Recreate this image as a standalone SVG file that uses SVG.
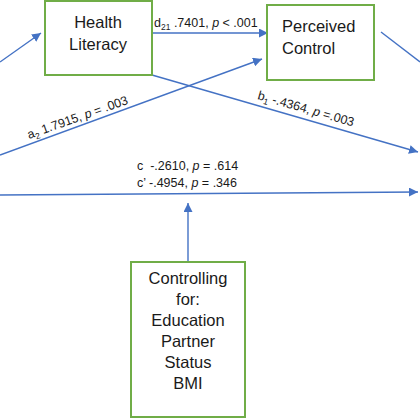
<svg xmlns="http://www.w3.org/2000/svg" width="420" height="420" viewBox="0 0 420 420">
<defs>
<marker id="ah" viewBox="0 0 10 10" refX="10" refY="5" markerWidth="9" markerHeight="9" markerUnits="userSpaceOnUse" orient="auto">
<path d="M0,0 L10,5 L0,10 z" fill="#4472C4"/>
</marker>
<style>
.box{fill:#fff;stroke:#70AD47;stroke-width:2}
.lbl{font-family:"Liberation Sans",Arial,sans-serif;font-size:16.5px;fill:#1a1a1a}
.sm{font-family:"Liberation Sans",Arial,sans-serif;font-size:12.5px;fill:#1a1a1a}
.ln{stroke:#4472C4;stroke-width:1.4;fill:none}
.arr{stroke:#4472C4;stroke-width:1.4;fill:none;marker-end:url(#ah)}
</style>
</defs>
<rect width="420" height="420" fill="#fff"/>
<g id="connectors">
<line class="arr" x1="0" y1="62" x2="41" y2="33"/>
<line class="arr" x1="152" y1="33" x2="268" y2="33"/>
<line class="arr" x1="0" y1="155" x2="262" y2="59"/>
<line class="arr" x1="152" y1="75" x2="418" y2="152"/>
<line class="ln" x1="381" y1="32" x2="420" y2="62"/>
<line class="arr" x1="0" y1="195" x2="418" y2="192"/>
<line class="arr" x1="188" y1="262" x2="188" y2="203"/>
<text class="sm" x="154" y="27">d<tspan font-size="8.5" dy="3">21</tspan><tspan dy="-3"> .7401, </tspan><tspan font-style="italic">p</tspan> &lt; .001</text>
<text class="sm" transform="translate(29,139) rotate(-19.5)">a<tspan font-size="8.5" dy="3">2</tspan><tspan dy="-3"> 1.7915, </tspan><tspan font-style="italic">p</tspan> = .003</text>
<text class="sm" transform="translate(257,99) rotate(16)">b<tspan font-size="8.5" dy="3">1</tspan><tspan dy="-3"> -.4364, </tspan><tspan font-style="italic">p</tspan> =.003</text>
<text class="sm" x="137" y="170">c&#160; -.2610, <tspan font-style="italic">p</tspan> = .614</text>
<text class="sm" x="137" y="187">c’ -.4954, <tspan font-style="italic">p</tspan> = .346</text>
</g>
<g id="health-literacy">
<rect class="box" x="45" y="1" width="107" height="74"/>
<text class="lbl" x="98" y="28" text-anchor="middle">Health</text>
<text class="lbl" x="98" y="50" text-anchor="middle">Literacy</text>
</g>
<g id="perceived-control">
<rect class="box" x="267" y="5" width="107" height="75"/>
<text class="lbl" x="282" y="32">Perceived</text>
<text class="lbl" x="282" y="54">Control</text>
</g>
<g id="controlling">
<rect class="box" x="131" y="262" width="114" height="155"/>
<text class="lbl" text-anchor="middle" x="188" y="284">Controlling</text>
<text class="lbl" text-anchor="middle" x="188" y="305">for:</text>
<text class="lbl" text-anchor="middle" x="188" y="326">Education</text>
<text class="lbl" text-anchor="middle" x="188" y="347">Partner</text>
<text class="lbl" text-anchor="middle" x="188" y="368">Status</text>
<text class="lbl" text-anchor="middle" x="188" y="389">BMI</text>
</g>
</svg>
